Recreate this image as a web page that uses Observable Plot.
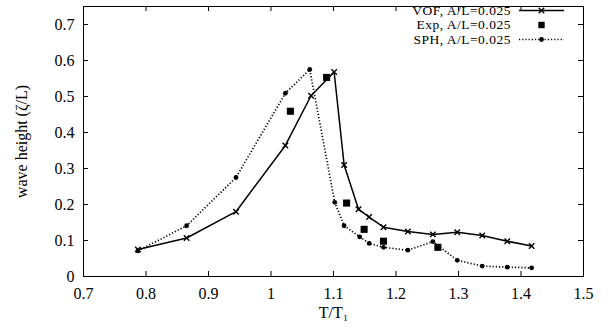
<!DOCTYPE html>
<html><head><meta charset="utf-8">
<script src="https://cdn.jsdelivr.net/npm/d3@7"></script>
<script src="https://cdn.jsdelivr.net/npm/@observablehq/plot@0.6"></script>
<style>body{margin:0;background:#fff}</style>
</head><body><div id="chart"></div>
<script>
const xTicks = [0.7, 0.8, 0.9, 1.0, 1.1, 1.2, 1.3, 1.4, 1.5];
const yTicks = [0, 0.1, 0.2, 0.3, 0.4, 0.5, 0.6, 0.7];

const vofX = [0.787, 0.865, 0.944, 1.023, 1.064, 1.101, 1.117, 1.140, 1.157, 1.180, 1.219, 1.259, 1.298, 1.338, 1.378, 1.417];
const vofY = [0.075, 0.107, 0.180, 0.364, 0.502, 0.568, 0.310, 0.187, 0.165, 0.137, 0.125, 0.117, 0.123, 0.114, 0.098, 0.085];
const sphX = [0.787, 0.865, 0.944, 1.023, 1.062, 1.102, 1.117, 1.142, 1.157, 1.180, 1.219, 1.259, 1.298, 1.338, 1.378, 1.417];
const sphY = [0.071, 0.141, 0.275, 0.509, 0.575, 0.206, 0.141, 0.110, 0.092, 0.081, 0.073, 0.097, 0.045, 0.029, 0.026, 0.024];
const expX = [1.031, 1.089, 1.121, 1.149, 1.180, 1.267];
const expY = [0.459, 0.553, 0.204, 0.131, 0.098, 0.081];

const seriesNames = ["VOF, A/L=0.025", "Exp, A/L=0.025", "SPH, A/L=0.025"];

const vof = vofX.map((x, i) => ({x, y: vofY[i]}));
const sph = sphX.map((x, i) => ({x, y: sphY[i]}));
const exp = expX.map((x, i) => ({x, y: expY[i]}));

const font = "'Liberation Serif', 'Times New Roman', serif";
const fmt = d => String(+d.toFixed(2));

const W = 612, H = 329, ML = 83, MR = 29, MT = 6, MB = 53;
const FW = W - ML - MR, FH = H - MT - MB, TL = 5;
const DOTTED = "1.2,2";

const plot = Plot.plot({
  width: W, height: H,
  marginLeft: ML, marginRight: MR, marginTop: MT, marginBottom: MB,
  style: {fontFamily: font, fontSize: "16px", background: "#fff", color: "#000"},
  x: {domain: [0.7, 1.5]},
  y: {domain: [0, 0.75]},
  marks: [
    Plot.axisX({ticks: xTicks, tickSize: 0, tickPadding: 10.9, tickFormat: fmt, label: null}),
    Plot.axisY({ticks: yTicks, tickSize: 0, tickPadding: 9, tickFormat: fmt, label: null}),
    Plot.tickX(xTicks, {x: d => d, insetTop: FH - TL, stroke: "#000"}),
    Plot.tickX(xTicks, {x: d => d, insetBottom: FH - TL, stroke: "#000"}),
    Plot.tickY(yTicks, {y: d => d, insetRight: FW - TL, stroke: "#000"}),
    Plot.tickY(yTicks, {y: d => d, insetLeft: FW - TL, stroke: "#000"}),
    Plot.line(sph, {x: "x", y: "y", stroke: "#000", strokeWidth: 1.7, strokeDasharray: DOTTED, strokeLinecap: "butt"}),
    Plot.dot(sph, {x: "x", y: "y", r: 2.4, fill: "#000", stroke: null}),
    Plot.line(vof, {x: "x", y: "y", stroke: "#000", strokeWidth: 1.5}),
    Plot.dot(vof, {x: "x", y: "y", symbol: "times", r: 2.6, stroke: "#000", strokeWidth: 1.4}),
    Plot.dot(exp, {x: "x", y: "y", symbol: "square", r: 4, fill: "#000", stroke: null}),
    Plot.frame({stroke: "#000"}),
    Plot.text(["T/T₁"], {frameAnchor: "bottom", dy: 36, lineAnchor: "middle", textAnchor: "middle", fontSize: 16, fill: "#000"}),
    Plot.text(["wave height (ζ/L)"], {frameAnchor: "left", dx: -62, rotate: -90, textAnchor: "middle", lineAnchor: "middle", fontSize: 16, fill: "#000"})
  ]
});

// Legend (inside the frame, top right)
const svg = d3.select(plot);
const lg = svg.append("g").attr("font-family", font).attr("font-size", 13.5).attr("fill", "#000");
const rowY = [10.5, 25, 39.5];
const tx = 511, lx1 = 519, lx2 = 564, mx = (lx1 + lx2) / 2;
seriesNames.forEach((name, i) => {
  lg.append("text").attr("x", tx).attr("y", rowY[i]).attr("dy", "0.32em")
    .attr("text-anchor", "end").attr("letter-spacing", "0.5px").text(name);
});
lg.append("line").attr("x1", lx1).attr("x2", lx2).attr("y1", rowY[0]).attr("y2", rowY[0]).attr("stroke", "#000").attr("stroke-width", 1.5);
lg.append("path").attr("d", d3.symbol(d3.symbolTimes, Math.PI * 2.6 * 2.6)()).attr("transform", `translate(${mx},${rowY[0]})`).attr("stroke", "#000").attr("stroke-width", 1.4).attr("fill", "none");
lg.append("path").attr("d", d3.symbol(d3.symbolSquare, Math.PI * 3.6 * 3.6)()).attr("transform", `translate(${mx},${rowY[1]})`).attr("fill", "#000");
lg.append("line").attr("x1", lx1).attr("x2", lx2).attr("y1", rowY[2]).attr("y2", rowY[2]).attr("stroke", "#000").attr("stroke-width", 1.7).attr("stroke-dasharray", DOTTED);
lg.append("circle").attr("cx", mx).attr("cy", rowY[2]).attr("r", 2.4).attr("fill", "#000");

document.getElementById("chart").appendChild(plot);
</script>
</body></html>
